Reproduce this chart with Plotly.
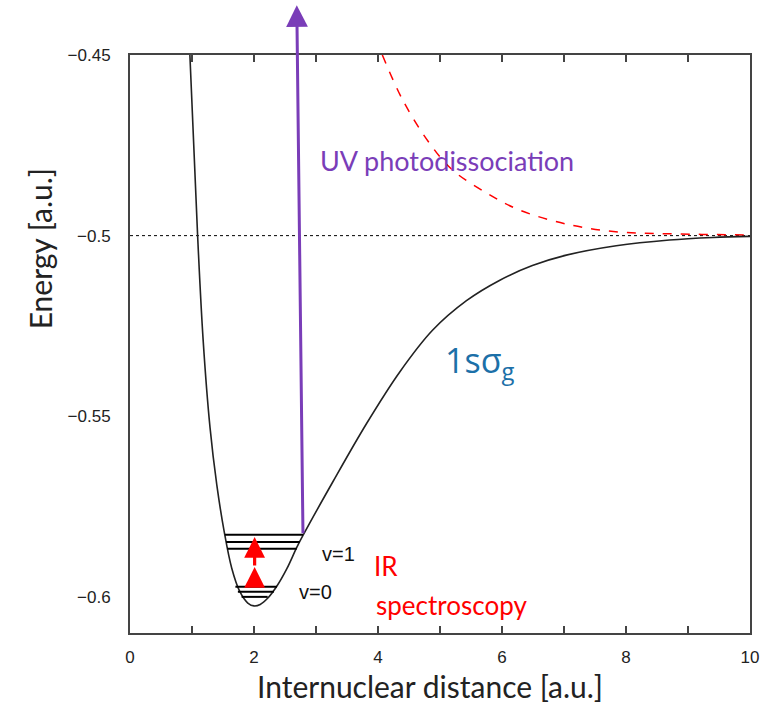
import plotly.graph_objects as go

# ---- data ----
# 1s sigma_g ground-state potential (R [a.u.], E [a.u.])
r_g = [0.966, 1.09, 1.18, 1.29, 1.40, 1.52, 1.64, 1.77, 1.90, 2.00, 2.10, 2.22, 2.37,
       2.53, 2.69, 2.79, 3.27, 3.816, 4.348, 4.879, 5.427, 5.958, 6.49, 7.037, 7.842,
       8.70, 9.40, 10.0]
e_g = [-0.4500, -0.4998, -0.5290, -0.5530, -0.5690, -0.5820, -0.5920, -0.5985, -0.6017,
       -0.6025, -0.6021, -0.6004, -0.5970, -0.5922, -0.5863, -0.5830, -0.5682, -0.5520,
       -0.5378, -0.5262, -0.5180, -0.5124, -0.5083, -0.5054, -0.5028, -0.5012, -0.5005,
       -0.5002]

# 2p sigma_u repulsive state (red dashed)
r_u = [4.07, 4.40, 4.83, 5.20, 5.75, 6.28, 7.09, 7.89, 8.70, 9.94, 10.0]
e_u = [-0.450, -0.4625, -0.4744, -0.4818, -0.4882, -0.4929, -0.4970, -0.4990, -0.4995,
       -0.4998, -0.4998]

# dissociation limit
r_lim = [0, 10]
e_lim = [-0.5, -0.5]

# vibrational level lines (energy, left R, right R)
vib_e = [-0.5828, -0.5848, -0.5867, -0.5972, -0.5986, -0.6000]
vib_r0 = [1.53, 1.55, 1.57, 1.70, 1.74, 1.80]
vib_r1 = [2.79, 2.74, 2.69, 2.37, 2.32, 2.22]

# UV arrow (tail, tip)
uv_r = [2.79, 2.69]
uv_e = [-0.5828, -0.4362]

# IR arrows (R, tail E, tip E)
ir_r = 2.01
ir_tail = [-0.5975, -0.5917]
ir_tip = [-0.5917, -0.5834]

x_ticks = [0, 2, 4, 6, 8, 10]
y_ticks = [-0.45, -0.5, -0.55, -0.6]
y_ticktext = ["\u22120.45", "\u22120.5", "\u22120.55", "\u22120.6"]

PURPLE = "#7A3DB8"
BLUE = "#1C70A8"
RED = "#FF0000"

fig = go.Figure()

fig.add_trace(go.Scatter(x=r_lim, y=e_lim, mode="lines",
                         line=dict(color="black", width=1, dash="dot"), hoverinfo="skip"))
fig.add_trace(go.Scatter(x=r_u, y=e_u, mode="lines",
                         line=dict(color=RED, width=1.5, dash="dash", shape="spline", smoothing=1.0),
                         hoverinfo="skip"))
fig.add_trace(go.Scatter(x=r_g, y=e_g, mode="lines",
                         line=dict(color="#222222", width=1.6, shape="spline", smoothing=1.0),
                         hoverinfo="skip"))

for e, a, b in zip(vib_e, vib_r0, vib_r1):
    fig.add_trace(go.Scatter(x=[a, b], y=[e, e], mode="lines",
                             line=dict(color="black", width=2), hoverinfo="skip"))

# UV arrow (annotation, so it can extend above the frame)
fig.add_annotation(x=uv_r[1], y=uv_e[1], ax=uv_r[0], ay=uv_e[0], xref="x", yref="y",
                   axref="x", ayref="y", text="", showarrow=True, arrowhead=2,
                   arrowsize=1.45, arrowwidth=3, arrowcolor=PURPLE)

# IR arrows
for t0, t1 in zip(ir_tail, ir_tip):
    fig.add_annotation(x=ir_r, y=t1, ax=ir_r, ay=t0, xref="x", yref="y", axref="x", ayref="y",
                       text="", showarrow=True, arrowhead=2, arrowsize=1.3, arrowwidth=3.2,
                       arrowcolor=RED)

# text labels
fig.add_annotation(x=3.03, y=-0.4791, xref="x", yref="y", text="UV photodissociation",
                   showarrow=False, xanchor="left", yanchor="middle",
                   font=dict(family="Lato", size=27, color=PURPLE))
fig.add_annotation(x=5.05, y=-0.5350, xref="x", yref="y", text="1sσ<sub>g</sub>",
                   showarrow=False, xanchor="left", yanchor="middle",
                   font=dict(family="Open Sans", size=34, color=BLUE))
fig.add_annotation(x=3.06, y=-0.5881, xref="x", yref="y", text="v=1",
                   showarrow=False, xanchor="left", yanchor="middle",
                   font=dict(family="Liberation Sans", size=20, color="#111111"))
fig.add_annotation(x=2.69, y=-0.5986, xref="x", yref="y", text="v=0",
                   showarrow=False, xanchor="left", yanchor="middle",
                   font=dict(family="Liberation Sans", size=20, color="#111111"))
fig.add_annotation(x=3.91, y=-0.5914, xref="x", yref="y", text="IR",
                   showarrow=False, xanchor="left", yanchor="middle",
                   font=dict(family="Lato", size=26, color=RED))
fig.add_annotation(x=3.93, y=-0.6022, xref="x", yref="y", text="spectroscopy",
                   showarrow=False, xanchor="left", yanchor="middle",
                   font=dict(family="Lato", size=26, color=RED))

# axis titles
fig.add_annotation(x=0.484, y=-0.092, xref="paper", yref="paper",
                   text="Internuclear distance [a.u.]", showarrow=False,
                   xanchor="center", yanchor="middle",
                   font=dict(family="Lato", size=30, color="#222222"))
fig.add_annotation(x=-0.145, y=0.664, xref="paper", yref="paper",
                   text="Energy [a.u.]", showarrow=False, textangle=-90,
                   xanchor="center", yanchor="middle",
                   font=dict(family="Lato", size=30, color="#222222"))

fig.update_layout(
    width=780, height=707,
    margin=dict(l=130, r=30, t=55, b=74),
    paper_bgcolor="white", plot_bgcolor="white",
    showlegend=False,
    xaxis=dict(range=[0, 10], tickvals=x_ticks, showgrid=False, zeroline=False,
               showline=True, linecolor="#444444", linewidth=2, mirror="ticks",
               ticks="inside", ticklen=7, tickwidth=1.5, tickcolor="#444444",
               minor=dict(dtick=1, ticks="inside", ticklen=7, tickwidth=1.5, tickcolor="#444444"),
               ticklabelstandoff=8,
               tickfont=dict(family="Liberation Sans", size=17, color="#222222")),
    yaxis=dict(range=[-0.61, -0.45], tickvals=y_ticks, ticktext=y_ticktext,
               showgrid=False, zeroline=False, showline=True, linecolor="#444444",
               linewidth=2, mirror=True, ticks="", ticklabelstandoff=14,
               tickfont=dict(family="Liberation Sans", size=17, color="#222222")),
)

fig.write_html("out.html")
